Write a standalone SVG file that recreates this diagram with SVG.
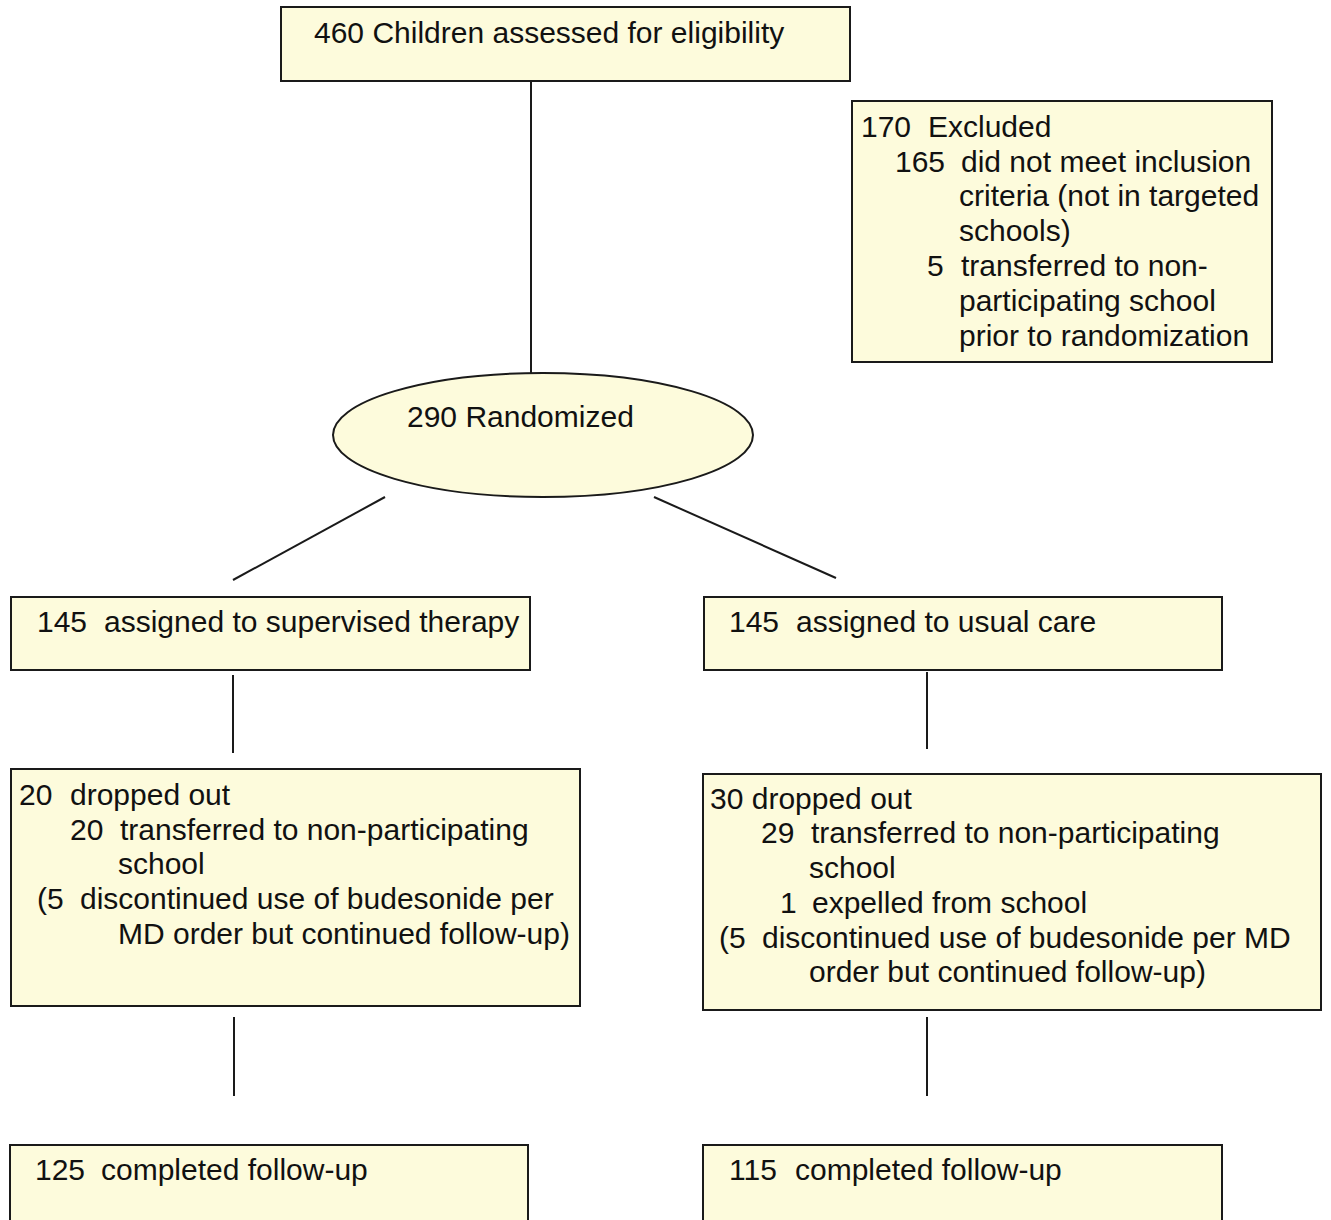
<svg xmlns="http://www.w3.org/2000/svg" width="1331" height="1220" viewBox="0 0 1331 1220">
<style>
.box{fill:#fdfbdc;stroke:#1a1a1a;stroke-width:2}
.t{font-family:"Liberation Sans",Arial,sans-serif;font-size:30px;fill:#111}
.c{stroke:#1a1a1a;stroke-width:2;fill:none}
</style>
<rect width="1331" height="1220" fill="#fff"/>
<g id="connectors">
<line class="c" x1="531" y1="81" x2="531" y2="373"/>
<line class="c" x1="385" y1="497" x2="233" y2="580"/>
<line class="c" x1="654" y1="497" x2="836" y2="578"/>
<line class="c" x1="233" y1="675" x2="233" y2="753"/>
<line class="c" x1="927" y1="672" x2="927" y2="749"/>
<line class="c" x1="234" y1="1017" x2="234" y2="1096"/>
<line class="c" x1="927" y1="1017" x2="927" y2="1096"/>
</g>
<g id="assessed">
<rect class="box" x="281" y="7" width="569" height="74"/>
<text class="t" x="314" y="43">460 Children assessed for eligibility</text>
</g>
<g id="excluded">
<rect class="box" x="852" y="101" width="420" height="261"/>
<text class="t" y="137"><tspan x="861">170</tspan><tspan x="928">Excluded</tspan></text>
<text class="t" y="172"><tspan x="895">165</tspan><tspan x="961">did not meet inclusion</tspan></text>
<text class="t" x="959" y="206">criteria (not in targeted</text>
<text class="t" x="959" y="241">schools)</text>
<text class="t" y="276"><tspan x="927">5</tspan><tspan x="961">transferred to non-</tspan></text>
<text class="t" x="959" y="311">participating school</text>
<text class="t" x="959" y="346">prior to randomization</text>
</g>
<g id="randomized">
<ellipse class="box" cx="543" cy="435" rx="210" ry="62"/>
<text class="t" x="407" y="427">290 Randomized</text>
</g>
<g id="supervised">
<rect class="box" x="11" y="597" width="519" height="73"/>
<text class="t" y="632"><tspan x="37">145</tspan><tspan x="104">assigned to supervised therapy</tspan></text>
</g>
<g id="usual">
<rect class="box" x="704" y="597" width="518" height="73"/>
<text class="t" y="632"><tspan x="729">145</tspan><tspan x="796">assigned to usual care</tspan></text>
</g>
<g id="dropped-left">
<rect class="box" x="11" y="769" width="569" height="237"/>
<text class="t" y="805"><tspan x="19">20</tspan><tspan x="70">dropped out</tspan></text>
<text class="t" y="840"><tspan x="70">20</tspan><tspan x="120">transferred to non-participating</tspan></text>
<text class="t" x="118" y="874">school</text>
<text class="t" y="909"><tspan x="37">(5</tspan><tspan x="80">discontinued use of budesonide per</tspan></text>
<text class="t" x="118" y="944">MD order but continued follow-up)</text>
</g>
<g id="dropped-right">
<rect class="box" x="703" y="774" width="618" height="236"/>
<text class="t" x="710" y="809">30 dropped out</text>
<text class="t" y="843"><tspan x="761">29</tspan><tspan x="811">transferred to non-participating</tspan></text>
<text class="t" x="809" y="878">school</text>
<text class="t" y="913"><tspan x="780">1</tspan><tspan x="812">expelled from school</tspan></text>
<text class="t" y="948"><tspan x="719">(5</tspan><tspan x="762">discontinued use of budesonide per MD</tspan></text>
<text class="t" x="809" y="982">order but continued follow-up)</text>
</g>
<g id="completed-left">
<rect class="box" x="10" y="1145" width="518" height="80"/>
<text class="t" y="1180"><tspan x="35">125</tspan><tspan x="101">completed follow-up</tspan></text>
</g>
<g id="completed-right">
<rect class="box" x="703" y="1145" width="519" height="80"/>
<text class="t" y="1180"><tspan x="729">115</tspan><tspan x="795">completed follow-up</tspan></text>
</g>
</svg>
